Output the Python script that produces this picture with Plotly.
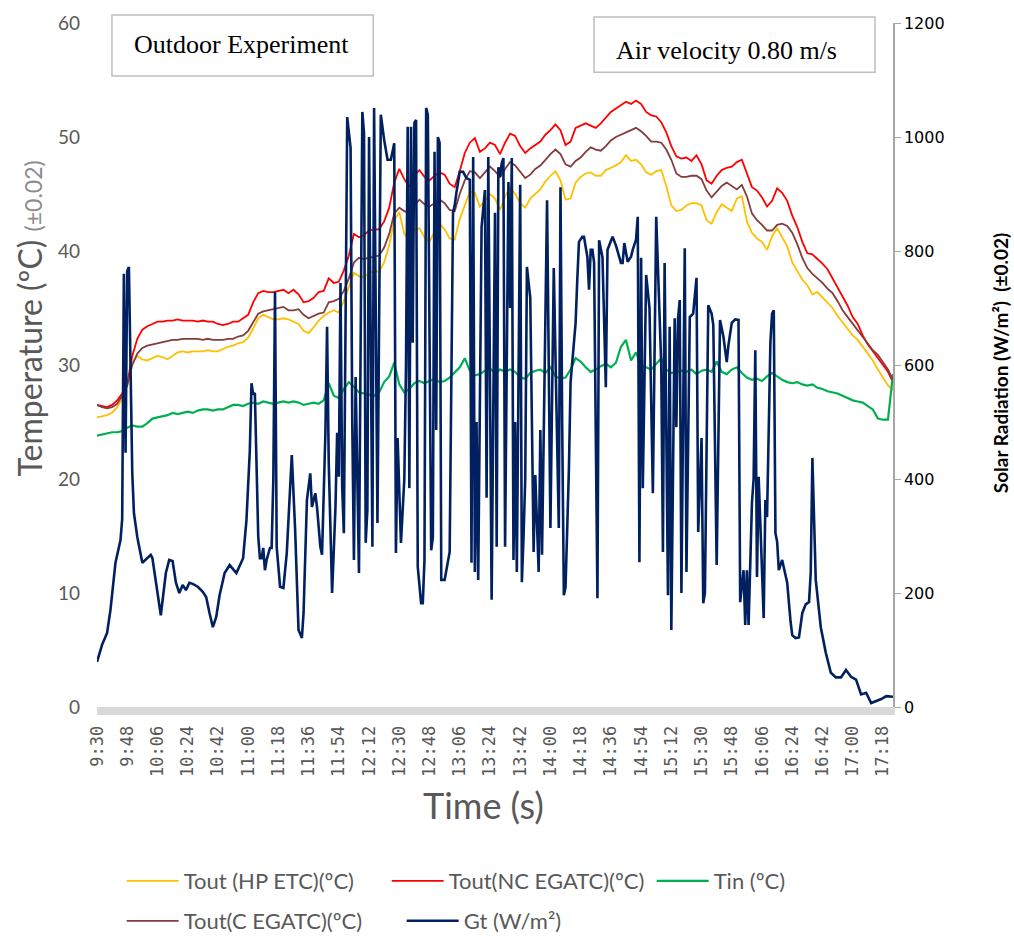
import plotly.graph_objects as go

# Time base: minutes after 9:30, temperatures logged every 3 minutes
minutes_t = list(range(0, 475, 3))

tick_minutes = list(range(0, 469, 18))
tick_labels = ["9:30", "9:48", "10:06", "10:24", "10:42", "11:00", "11:18", "11:36",
               "11:54", "12:12", "12:30", "12:48", "13:06", "13:24", "13:42", "14:00",
               "14:18", "14:36", "14:54", "15:12", "15:30", "15:48", "16:06", "16:24",
               "16:42", "17:00", "17:18"]

tout_hp_etc = [
    25.4, 25.5, 25.6, 25.8, 26.3, 27.0, 28.2, 30.2, 30.8, 30.5,
    30.4, 30.6, 30.8, 30.7, 30.5, 30.8, 31.1, 31.2, 31.1, 31.2,
    31.2, 31.2, 31.3, 31.2, 31.2, 31.4, 31.6, 31.7, 31.9, 32.0,
    32.4, 33.2, 34.1, 34.4, 34.2, 34.0, 34.0, 34.1, 34.0, 33.8,
    33.6, 33.0, 32.8, 33.3, 33.9, 34.3, 34.6, 34.8, 34.6, 35.6,
    36.8, 38.1, 37.8, 37.7, 38.1, 38.2, 38.2, 39.0, 40.5, 42.7,
    43.4, 41.5, 40.9, 41.8, 42.0, 41.2, 40.8, 41.7, 42.4, 41.9,
    41.1, 41.0, 42.8, 44.0, 45.2, 45.1, 43.9, 44.4, 45.0, 44.6,
    43.6, 44.8, 45.6, 45.0, 44.2, 43.8, 44.6, 45.0, 45.4, 46.1,
    46.6, 47.0, 46.2, 44.5, 44.6, 46.0, 46.5, 46.8, 46.9, 46.6,
    46.6, 47.1, 47.3, 47.5, 47.8, 48.4, 47.9, 48.0, 47.6, 46.9,
    46.7, 47.0, 47.1, 45.7, 44.0, 43.5, 43.6, 44.0, 44.2, 44.2,
    44.0, 42.7, 42.4, 43.4, 44.1, 43.8, 43.5, 44.6, 44.8, 42.6,
    41.6, 41.1, 40.8, 40.1, 41.3, 42.0, 41.2, 40.4, 39.0, 38.3,
    37.5, 37.0, 36.2, 36.4, 35.9, 35.4, 35.0, 34.3, 33.7, 33.2,
    32.6, 32.2, 31.6, 31.0, 30.4, 29.6, 28.9, 28.2, 27.8]

tout_nc_egatc = [
    26.5, 26.4, 26.3, 26.5, 26.9, 27.5, 28.4, 30.8, 32.3, 33.1,
    33.4, 33.6, 33.8, 33.8, 33.9, 33.9, 34.0, 33.9, 33.9, 33.9,
    33.8, 33.9, 33.8, 33.8, 33.6, 33.5, 33.6, 33.8, 33.8, 34.1,
    34.4, 35.5, 36.3, 36.5, 36.4, 36.4, 36.5, 36.6, 36.3, 36.6,
    36.2, 35.5, 35.6, 35.9, 36.4, 36.5, 37.6, 37.2, 37.3, 38.3,
    39.6, 41.5, 41.2, 41.4, 41.8, 41.9, 41.9, 42.6, 43.8, 46.0,
    47.2, 46.3, 45.6, 46.6, 47.1, 46.5, 46.2, 46.6, 46.9, 46.7,
    45.9, 45.6, 47.0, 48.6, 49.5, 49.9, 48.7, 49.0, 49.5, 49.3,
    48.5, 49.5, 50.3, 50.1, 49.2, 48.6, 49.0, 49.3, 49.6, 50.2,
    50.6, 51.1, 50.6, 49.3, 49.6, 50.8, 51.0, 51.2, 51.0, 50.8,
    51.2, 51.7, 52.2, 52.5, 52.8, 53.1, 52.9, 53.2, 52.9, 52.2,
    51.9, 51.8, 51.3, 50.4, 49.2, 48.3, 48.1, 48.2, 47.9, 48.4,
    47.6, 46.2, 45.9, 46.6, 47.1, 47.3, 47.4, 47.8, 48.0, 46.8,
    45.6, 45.3, 44.7, 43.9, 44.4, 45.5, 45.1, 44.4, 43.1, 42.1,
    40.8, 39.8, 39.7, 39.3, 38.9, 38.4, 37.6, 36.8, 36.0, 35.2,
    34.2, 33.6, 32.6, 31.8, 31.2, 30.6, 30.0, 29.4, 28.5]

tin = [
    23.8, 23.9, 24.0, 24.1, 24.1, 24.2, 24.5, 24.7, 24.6, 24.6,
    24.9, 25.3, 25.4, 25.5, 25.6, 25.8, 25.7, 25.8, 25.9, 25.8,
    26.0, 26.1, 26.1, 26.0, 26.1, 26.1, 26.3, 26.5, 26.5, 26.4,
    26.6, 26.7, 26.6, 26.8, 26.7, 26.6, 26.7, 26.8, 26.7, 26.8,
    26.7, 26.5, 26.6, 26.7, 26.6, 26.9, 28.4, 27.3, 27.1, 27.9,
    28.5, 28.1, 27.6, 27.5, 27.4, 27.3, 27.6, 28.5, 29.0, 30.2,
    28.3, 27.6, 27.9, 28.4, 28.6, 28.4, 28.6, 28.8, 28.5, 28.6,
    28.9, 29.4, 29.8, 30.6, 29.5, 29.1, 29.2, 29.5, 29.7, 29.3,
    29.6, 29.4, 29.6, 29.4, 28.9, 28.8, 29.3, 29.5, 29.6, 29.3,
    29.8, 29.0, 28.8, 28.9, 29.6, 30.6, 30.3, 29.8, 29.4, 29.6,
    29.9, 30.1, 29.8, 30.2, 31.6, 32.2, 30.4, 31.1, 29.9, 29.8,
    29.6, 30.1, 30.6, 29.6, 29.3, 29.4, 29.5, 29.4, 29.6, 29.2,
    29.5, 29.6, 29.4, 30.3, 29.4, 29.2, 29.6, 29.8, 29.3, 28.9,
    28.7, 28.8, 28.6, 29.0, 29.3, 29.0, 28.7, 28.5, 28.4, 28.5,
    28.3, 28.2, 28.3, 28.0, 27.9, 27.7, 27.6, 27.5, 27.3, 27.1,
    26.9, 26.8, 26.7, 26.4, 26.1, 25.3, 25.2, 25.2, 29.2]

tout_c_egatc = [
    26.5, 26.3, 26.2, 26.3, 26.6, 27.3, 28.2, 30.0, 31.0, 31.5,
    31.7, 31.8, 31.9, 32.0, 32.1, 32.2, 32.2, 32.3, 32.3, 32.3,
    32.3, 32.2, 32.3, 32.2, 32.2, 32.2, 32.3, 32.3, 32.5, 32.6,
    33.0, 33.7, 34.5, 34.7, 34.8, 34.9, 35.0, 35.1, 34.8, 34.8,
    34.9, 34.4, 34.1, 34.3, 34.5, 34.6, 35.5, 35.6, 35.8, 36.5,
    37.6, 39.0, 39.4, 39.3, 39.4, 39.5, 39.6, 40.3, 41.5, 43.3,
    43.8, 43.5, 43.3, 44.0, 44.5, 44.1, 43.9, 44.2, 44.5, 44.2,
    43.6, 43.5, 45.0, 46.2, 47.0, 46.9, 46.4, 46.9, 47.4, 47.0,
    46.5, 47.2, 47.8, 47.5, 46.9, 46.4, 46.7, 47.2, 47.5, 48.0,
    48.5, 48.9, 48.5, 47.6, 47.4, 47.9, 48.2, 48.7, 49.1, 48.9,
    48.8, 49.2, 49.7, 50.0, 50.2, 50.4, 50.6, 50.8, 50.5, 50.1,
    49.6, 49.6, 49.5, 48.9, 48.0, 46.8, 46.5, 46.5, 46.6, 46.6,
    46.3, 45.3, 44.7, 45.2, 45.7, 46.0, 45.7, 45.4, 45.8, 44.8,
    43.3, 42.7, 42.3, 41.8, 41.8, 42.3, 42.4, 42.2, 41.6, 40.6,
    39.4, 38.5, 38.0, 37.6, 37.2, 36.7, 36.3, 35.6, 34.8, 34.2,
    33.6, 33.1, 32.5, 31.9, 31.3, 30.9, 30.3, 29.6, 28.7]

# Solar radiation readings (minute after 9:30, W/m2)
gt_minute = [
    0, 3, 6, 8, 11, 14, 15, 16, 17, 18,
    19, 21, 22, 24, 27, 30, 32, 33, 36, 38,
    41, 43, 45, 47, 49, 51, 53, 55, 57, 60,
    63, 65, 67, 69, 71, 73, 76, 79, 83, 87,
    89, 91, 92, 93, 94, 95, 96, 97, 98, 99,
    100, 101, 102, 103, 104, 105, 106, 107, 109, 111,
    113, 116, 118, 120, 122, 123, 125, 127, 128, 130,
    131, 133, 134, 136, 137, 138, 140, 142, 143, 144,
    145, 146, 147, 149, 151, 152, 153, 154, 156, 158,
    159, 160, 161, 162, 164, 165, 167, 169, 171, 173,
    175, 177, 178, 179, 181, 183, 184, 185, 186, 187,
    188, 189, 190, 191, 193, 194, 195, 196, 197, 199,
    200, 201, 202, 203, 204, 205, 207, 210, 212, 213,
    214, 216, 218, 220, 222, 223, 224, 225, 226, 227,
    229, 231, 232, 233, 235, 237, 238, 239, 240, 241,
    242, 243, 245, 246, 247, 248, 249, 250, 252, 253,
    254, 255, 256, 258, 260, 261, 263, 264, 265, 268,
    270, 272, 275, 276, 277, 278, 279, 281, 282, 283,
    284, 285, 286, 287, 289, 290, 291, 292, 293, 294,
    295, 296, 298, 299, 301, 303, 304, 307, 309, 311,
    312, 313, 314, 316, 318, 319, 321, 322, 323, 324,
    325, 327, 329, 331, 333, 336, 337, 338, 340, 341,
    342, 344, 345, 346, 347, 348, 350, 351, 353, 355,
    357, 358, 360, 361, 362, 364, 366, 367, 369, 371,
    373, 375, 376, 378, 380, 382, 383, 385, 386, 387,
    388, 390, 391, 392, 393, 394, 397, 398, 399, 401,
    402, 403, 404, 405, 406, 408, 410, 411, 413, 414,
    416, 418, 420, 422, 424, 425, 426, 427, 428, 431,
    434, 437, 440, 443, 446, 449, 452, 455, 458, 461,
    464, 467, 470, 474]

gt_wm2 = [
    79, 109, 130, 170, 253, 293, 330, 760, 446, 765,
    772, 410, 340, 298, 253, 261, 267, 261, 205, 161,
    235, 258, 256, 218, 200, 214, 205, 218, 216, 211,
    202, 193, 165, 140, 158, 196, 235, 249, 235, 261,
    328, 450, 568, 548, 551, 420, 300, 261, 261, 279,
    240, 258, 270, 279, 279, 400, 728, 281, 211, 209,
    270, 442, 310, 135, 121, 165, 363, 410, 351, 375,
    351, 281, 267, 480, 667, 428, 200, 350, 481, 404,
    744, 386, 305, 1035, 981, 500, 258, 579, 235, 1044,
    1007, 288, 346, 1000, 281, 1051, 323, 1039, 995, 960,
    960, 989, 270, 472, 288, 400, 600, 1018, 384, 1018,
    639, 1025, 1030, 246, 182, 182, 258, 1051, 1039, 275,
    298, 974, 486, 1000, 990, 223, 223, 272, 867, 880,
    902, 939, 939, 928, 925, 253, 965, 237, 500, 223,
    842, 907, 367, 965, 188, 867, 281, 947, 930, 954,
    963, 281, 921, 700, 963, 258, 500, 237, 916, 219,
    300, 400, 772, 718, 272, 407, 237, 486, 267, 889,
    314, 770, 314, 912, 500, 196, 210, 416, 570, 609,
    640, 674, 750, 816, 825, 825, 807, 790, 732, 802,
    802, 780, 191, 819, 789, 561, 802, 825, 810, 790,
    779, 779, 814, 781, 790, 802, 820, 860, 254, 788,
    384, 758, 700, 375, 860, 600, 272, 779, 196, 667,
    135, 682, 491, 682, 714, 200, 805, 237, 684, 690,
    753, 307, 472, 182, 200, 705, 690, 670, 249, 679,
    650, 605, 635, 674, 680, 679, 184, 240, 144, 240,
    144, 358, 400, 626, 228, 404, 156, 363, 333, 640,
    690, 696, 305, 290, 240, 258, 230, 218, 150, 126,
    121, 122, 165, 180, 184, 235, 437, 300, 223, 140,
    95, 60, 52, 52, 65, 53, 48, 22, 25, 7,
    10, 14, 19, 18]

assert len(gt_minute) == len(gt_wm2)

GREY = "#595959"

fig = go.Figure()

fig.add_trace(go.Scatter(x=minutes_t, y=tout_hp_etc, mode="lines",
                         name="Tout (HP ETC)(ºC)", line=dict(color="#FFC000", width=1.8),
                         legend="legend"))
fig.add_trace(go.Scatter(x=minutes_t, y=tout_nc_egatc, mode="lines",
                         name="Tout(NC EGATC)(ºC)", line=dict(color="#FF0000", width=1.8),
                         legend="legend"))
fig.add_trace(go.Scatter(x=minutes_t, y=tin, mode="lines",
                         name="Tin (ºC)", line=dict(color="#00B050", width=2.2),
                         legend="legend"))
fig.add_trace(go.Scatter(x=minutes_t, y=tout_c_egatc, mode="lines",
                         name="Tout(C EGATC)(ºC)", line=dict(color="#843C3C", width=1.8),
                         legend="legend2"))
fig.add_trace(go.Scatter(x=gt_minute, y=gt_wm2, mode="lines", yaxis="y2",
                         name="Gt (W/m²)", line=dict(color="#002060", width=2.6),
                         legend="legend2"))

legend_font = dict(family="Lato", size=22, color=GREY)

fig.update_layout(
    width=1014, height=937,
    margin=dict(l=97, r=121, t=23, b=230, autoexpand=False),
    paper_bgcolor="white", plot_bgcolor="white",
    xaxis=dict(range=[0, 474], tickmode="array", tickvals=tick_minutes, ticktext=tick_labels,
               tickangle=-90, showgrid=False, zeroline=False, showline=True,
               linecolor="#d9d9d9", linewidth=8, ticks="", ticklabelstandoff=4,
               tickfont=dict(family="DejaVu Sans Mono", size=17, color=GREY)),
    yaxis=dict(range=[0, 60], dtick=10, showgrid=False, zeroline=False, showline=False,
               ticks="", ticklabelstandoff=16,
               tickfont=dict(family="Lato", size=19, color=GREY)),
    yaxis2=dict(overlaying="y", side="right", range=[0, 1200], dtick=200,
                showgrid=False, zeroline=False, showline=True, linecolor="#a6a6a6",
                linewidth=1.5, ticks="outside", ticklen=6, tickcolor="#a6a6a6",
                tickfont=dict(family="DejaVu Sans", size=16, color="black")),
    legend=dict(orientation="h", x=0.031, y=-0.2544, xanchor="left", yanchor="middle",
                font=legend_font, itemwidth=52, entrywidth=198,
                bgcolor="rgba(0,0,0,0)"),
    legend2=dict(orientation="h", x=0.031, y=-0.3129, xanchor="left", yanchor="middle",
                 font=legend_font, itemwidth=52, entrywidth=213,
                 bgcolor="rgba(0,0,0,0)"),
    showlegend=True,
)

# Framed captions
fig.add_shape(type="rect", xref="paper", yref="paper", x0=0.0188, x1=0.347,
              y0=0.9225, y1=1.0117, line=dict(color="#bfbfbf", width=1.5), fillcolor="white")
fig.add_shape(type="rect", xref="paper", yref="paper", x0=0.6244, x1=0.9774,
              y0=0.928, y1=1.0088, line=dict(color="#bfbfbf", width=1.5), fillcolor="white")

fig.add_annotation(x=0.182, y=0.969, xref="paper", yref="paper", showarrow=False,
                   text="Outdoor Experiment", xanchor="center", yanchor="middle",
                   font=dict(family="Liberation Serif", size=26, color="black"))
fig.add_annotation(x=0.791, y=0.9605, xref="paper", yref="paper", showarrow=False,
                   text="Air velocity 0.80 m/s", xanchor="center", yanchor="middle",
                   font=dict(family="Liberation Serif", size=26, color="black"))

# Axis titles
fig.add_annotation(x=-0.0842, y=0.568, xref="paper", yref="paper", showarrow=False,
                   textangle=-90, xanchor="center", yanchor="middle",
                   text="Temperature (ºC) <span style='font-size:23px;color:#8c8c8c'>(±0.02)</span>",
                   font=dict(family="Lato", size=32, color=GREY))
fig.add_annotation(x=1.1344, y=0.504, xref="paper", yref="paper", showarrow=False,
                   textangle=-90, xanchor="center", yanchor="middle",
                   text="<b>Solar Radiation (W/m²) &nbsp;(±0.02)</b>",
                   font=dict(family="Lato", size=19, color="black"))
fig.add_annotation(x=0.485, y=-0.1433, xref="paper", yref="paper", showarrow=False,
                   xanchor="center", yanchor="middle", text="Time (s)",
                   font=dict(family="Lato", size=36, color=GREY))

fig.write_html("out.html")
